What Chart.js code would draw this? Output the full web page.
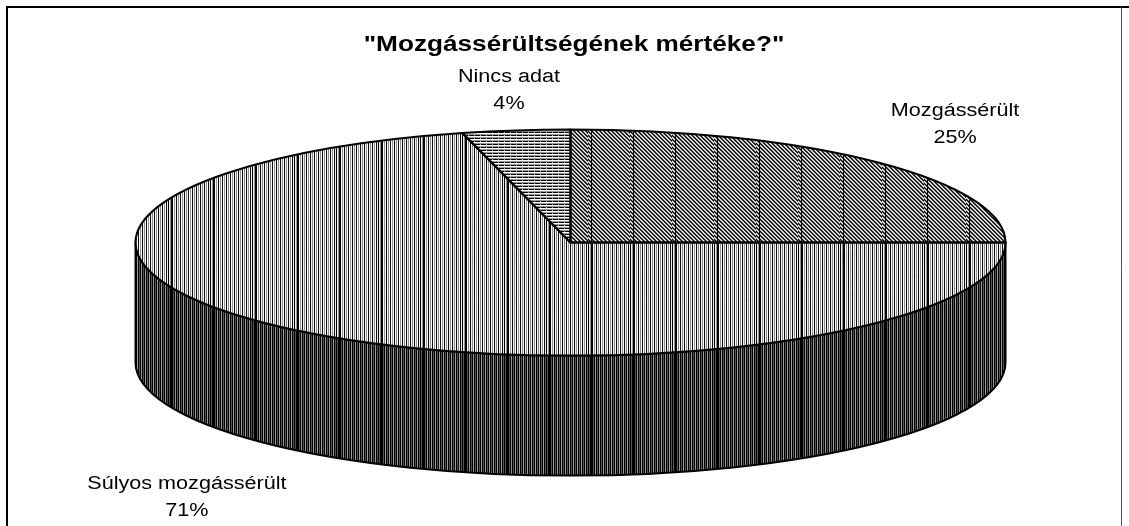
<!DOCTYPE html>
<html lang="hu">
<head>
<meta charset="utf-8">
<title>Mozgássérültségének mértéke?</title>
<script src="https://cdn.jsdelivr.net/npm/chart.js@4.4.1/dist/chart.umd.min.js"></script>
<style>
  html, body { margin: 0; padding: 0; background: #fff; }
  #wrap { width: 1129px; height: 526px; }
</style>
</head>
<body>
<div id="wrap"><canvas id="pieChart" width="1129" height="526"></canvas></div>
<script>
const chartTitle = '"Mozgássérültségének mértéke?"';
const categories = ['Mozgássérült', 'Súlyos mozgássérült', 'Nincs adat'];
const shares = [25, 71, 4];

const TILT = 0.26;     // ellipszis lapítása
const DEPTH = 120;     // oldalfal magassága
const RADIUS = 435;
const FONT = '"Liberation Sans", Arial, sans-serif';

// mintázatok (42 px-enként egy sötétebb függőleges vonal, mint az eredetin)
function makePattern(pixel, boldLine) {
  const c = document.createElement('canvas');
  c.width = 42;
  c.height = 12;
  const g = c.getContext('2d');
  for (let y = 0; y < 12; y++) {
    for (let x = 0; x < 42; x++) {
      g.fillStyle = boldLine && x === 3 ? '#000' : pixel(x, y);
      g.fillRect(x, y, 1, 1);
    }
  }
  return g.createPattern(c, 'repeat');
}

const diagPattern = makePattern((x, y) => {
  const dark = ((x - y + 48) & 3) < 2;
  if (dark) return (x + y) & 1 ? '#000' : '#4a4a4a';
  return (x + y) & 1 ? '#fff' : '#a0a0a0';
}, true);
const lightStripes = makePattern(x => ['#000', '#fff', '#8a8a8a', '#fff'][x % 4], true);
const hLines = makePattern((x, y) => {
  const r = y % 3;
  if (r === 0) return x % 6 === 0 ? '#aaa' : '#000';
  return r === 1 ? '#fff' : '#999';
}, false);
const darkStripes = makePattern(x => ['#000', '#555', '#000', '#9a9a9a'][x % 4], true);

const topPatterns = [diagPattern, lightStripes, hLines];
const sidePatterns = [diagPattern, darkStripes, hLines];

function drawStretched(ctx, text, x, y, sx) {
  ctx.save();
  ctx.translate(x, y);
  ctx.scale(sx, 1);
  ctx.fillText(text, 0, 0);
  ctx.restore();
}

const pie3d = {
  id: 'pie3d',
  beforeDraw(chart) {
    const ctx = chart.ctx;
    ctx.save();
    ctx.fillStyle = '#fff';
    ctx.fillRect(0, 0, chart.width, chart.height);
    ctx.strokeStyle = '#000';
    ctx.lineWidth = 2;
    ctx.beginPath();
    ctx.moveTo(7, chart.height);
    ctx.lineTo(7, 7);
    ctx.lineTo(chart.width, 7);
    ctx.stroke();
    ctx.strokeStyle = '#555';
    ctx.lineWidth = 1;
    ctx.beginPath();
    ctx.moveTo(1121.5, 7);
    ctx.lineTo(1121.5, chart.height);
    ctx.stroke();
    ctx.restore();
  },
  beforeDatasetsDraw(chart) {
    const ctx = chart.ctx;
    const arcs = chart.getDatasetMeta(0).data;
    const cx = arcs[0].x, cy = arcs[0].y;
    const rx = arcs[0].outerRadius, ry = rx * TILT;

    // oldalfal: csak az elülső félkör látszik
    arcs.forEach((arc, i) => {
      const a0 = Math.max(arc.startAngle, 0);
      const a1 = Math.min(arc.endAngle, Math.PI);
      if (a1 <= a0) return;
      ctx.save();
      ctx.beginPath();
      ctx.ellipse(cx, cy, rx, ry, 0, a0, a1);
      ctx.ellipse(cx, cy + DEPTH, rx, ry, 0, a1, a0, true);
      ctx.closePath();
      ctx.fillStyle = sidePatterns[i];
      ctx.fill();
      ctx.lineWidth = 2;
      ctx.strokeStyle = '#000';
      ctx.lineJoin = 'round';
      ctx.stroke();
      ctx.restore();
    });

    // a tetőlap a Chart.js saját ívrajzolásával, függőlegesen lapítva
    ctx.save();
    ctx.translate(cx, cy);
    ctx.scale(1, TILT);
    ctx.translate(-cx, -cy);
    const inv = new DOMMatrix().translate(cx, cy).scale(1, 1 / TILT).translate(-cx, -cy);
    topPatterns.forEach(p => p.setTransform(inv));
  },
  afterDatasetsDraw(chart, args, opts) {
    const ctx = chart.ctx;
    ctx.restore();
    topPatterns.forEach(p => p.setTransform(new DOMMatrix()));

    const arcs = chart.getDatasetMeta(0).data;
    const cx = arcs[0].x, cy = arcs[0].y;
    const rx = arcs[0].outerRadius, ry = rx * TILT;

    ctx.save();
    ctx.lineWidth = 2;
    ctx.strokeStyle = '#000';
    ctx.lineJoin = 'round';
    arcs.forEach(arc => {
      ctx.beginPath();
      ctx.moveTo(cx, cy);
      ctx.ellipse(cx, cy, rx, ry, 0, arc.startAngle, arc.endAngle);
      ctx.closePath();
      ctx.stroke();
    });

    // címkék
    const total = shares.reduce((a, b) => a + b, 0);
    ctx.fillStyle = '#000';
    ctx.textAlign = 'center';
    ctx.textBaseline = 'alphabetic';
    ctx.font = '18px ' + FONT;
    arcs.forEach((arc, i) => {
      const mid = (arc.startAngle + arc.endAngle) / 2;
      let x = cx + rx * Math.cos(mid);
      let y = cy + ry * Math.sin(mid);
      if (Math.sin(mid) > 0) y += DEPTH;
      const [nx, ny] = opts.nudge[i];
      x += nx;
      y += ny;
      const pct = Math.round(shares[i] / total * 100) + '%';
      drawStretched(ctx, categories[i], x, y, 1.2);
      drawStretched(ctx, pct, x, y + 27, 1.2);
    });

    ctx.font = 'bold 22px ' + FONT;
    drawStretched(ctx, chartTitle, 574, 51, 1.19);
    ctx.restore();
  }
};

new Chart(document.getElementById('pieChart'), {
  type: 'pie',
  data: {
    labels: categories,
    datasets: [{
      data: shares,
      backgroundColor: topPatterns,
      borderWidth: 0,
      radius: RADIUS,
      clip: false
    }]
  },
  options: {
    responsive: false,
    animation: false,
    events: [],
    layout: { padding: { left: 12, right: 0, top: 0, bottom: 41 } },
    plugins: {
      legend: { display: false },
      title: { display: false },
      tooltip: { enabled: false },
      pie3d: { nudge: [[77, -47], [-117, 37], [-7, -48]] }
    }
  },
  plugins: [pie3d]
});
</script>
</body>
</html>
